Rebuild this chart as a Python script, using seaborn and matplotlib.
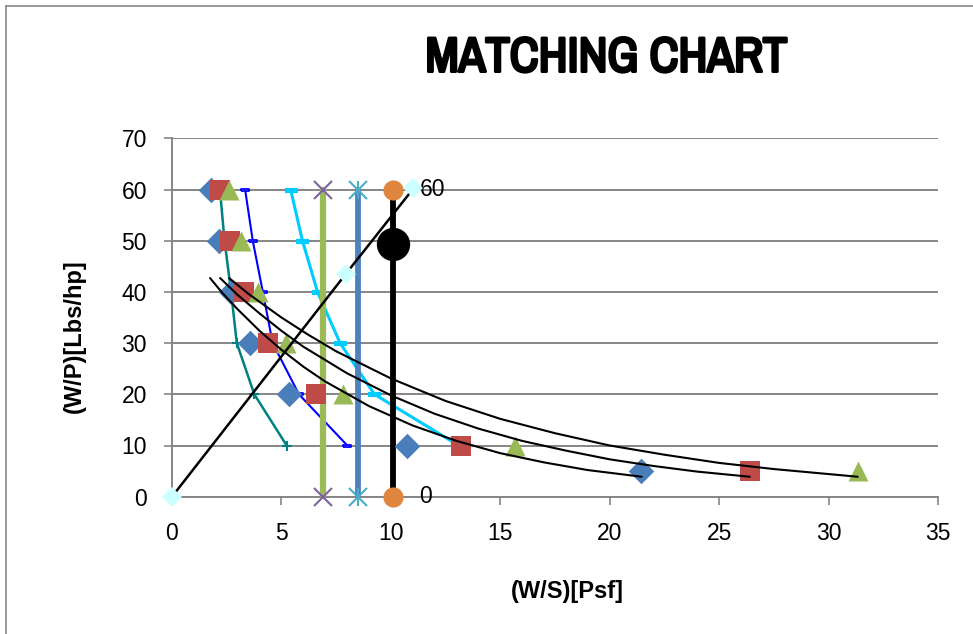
import numpy as np
import pandas as pd
import matplotlib
matplotlib.use('Agg')
import matplotlib.pyplot as plt
import matplotlib.patheffects as pe
from matplotlib import font_manager
import seaborn as sns

# ==================== 数据 ====================
wp_levels = [60, 50, 40, 30, 20, 10, 5]
ws_diamond = [1.79, 2.14, 2.68, 3.57, 5.36, 10.72, 21.44]
ws_square = [2.20, 2.64, 3.30, 4.40, 6.60, 13.20, 26.40]
ws_triangle = [2.61, 3.13, 3.92, 5.22, 7.83, 15.67, 31.33]

wp_six = [60, 50, 40, 30, 20, 10]
ws_teal = [2.19, 2.40, 2.70, 2.96, 3.76, 5.24]
ws_blue = [3.34, 3.69, 4.15, 4.60, 5.80, 8.01]
ws_cyan = [5.42, 5.96, 6.65, 7.68, 9.25, 13.10]

# vertical constraint lines (W/S fixed)
vline_wp = [0, 60]
ws_green = [6.9, 6.9]
ws_steel = [8.5, 8.5]
ws_black = [10.1, 10.1]

# design point
design_ws = [10.1]
design_wp = [49.4]

# diagonal line
diag_ws = [0, 7.94, 11.03]
diag_wp = [0, 43.5, 60.2]

# trend curves
trend1_ws = [1.74, 2.3, 3, 4, 5, 6, 7, 9, 11, 13, 15, 17, 19, 21.46]
trend1_wp = [42.7, 39.8, 36.6, 32.4, 28.7, 25.4, 22.5, 17.7, 13.9, 10.9, 8.5, 6.7, 5.2, 3.9]
trend2_ws = [2.2, 3, 4, 5, 6, 8, 10, 12, 14, 16, 18, 20, 22, 24, 26.4]
trend2_wp = [42.7, 39.4, 35.8, 32.4, 29.3, 24.1, 19.8, 16.2, 13.3, 10.9, 9.0, 7.3, 6.0, 4.9, 3.9]
trend3_ws = [2.61, 3.5, 5, 6.2, 7.5, 10, 12.5, 15, 17.5, 20, 22.5, 25, 27.5, 31.33]
trend3_wp = [42.7, 39.6, 35.0, 31.7, 28.4, 23.1, 18.7, 15.2, 12.4, 10.0, 8.2, 6.6, 5.4, 3.9]

label_ws = [10.1, 10.1]
label_wp = [60, 0]
label_txt = ['60', '0']

# ==================== 样式 ====================
sns.set_theme(style='white')
plt.rcParams['font.family'] = ['Liberation Sans', 'DejaVu Sans']
plt.rcParams['text.color'] = 'black'
plt.rcParams['axes.labelcolor'] = 'black'
grey = '#868686'

# 标题用窄体 + 描边加粗
narrow = [f.name for f in font_manager.fontManager.ttflist
          if 'Narrow' in f.name or 'Condensed' in f.name]
if narrow:
    title_family = [narrow[0]]
    title_effects = [pe.withStroke(linewidth=2.2, foreground='black')]
    title_weight = 'normal'
else:
    title_family = ['Roboto', 'DejaVu Sans']
    title_effects = None
    title_weight = 'bold'

fig = plt.figure(figsize=(9.73, 6.34), dpi=100)
ax = fig.add_axes([172 / 973, 137.3 / 634, 766 / 973, 358.4 / 634])

dash_marker = [(-1, -0.35), (1, -0.35), (1, 0.35), (-1, 0.35), (-1, -0.35)]

# 细线系列
sns.lineplot(x=ws_teal, y=wp_six, ax=ax, sort=False, estimator=None, color='#008080',
             lw=1.8, marker='+', markersize=7, markeredgewidth=1.5,
             markeredgecolor='#008080', zorder=2, legend=False)
sns.lineplot(x=ws_blue, y=wp_six, ax=ax, sort=False, estimator=None, color='#0000FF',
             lw=1.5, marker=dash_marker, markersize=6, markerfacecolor='white',
             markeredgewidth=1.3, markeredgecolor='#0000FF', zorder=2, legend=False)
sns.lineplot(x=ws_cyan, y=wp_six, ax=ax, sort=False, estimator=None, color='#00CCFF',
             lw=2.2, marker=dash_marker, markersize=9, markerfacecolor='#00CCFF',
             markeredgewidth=0.8, markeredgecolor='#00CCFF', zorder=2, legend=False)

# 竖直线
sns.lineplot(x=ws_green, y=vline_wp, ax=ax, sort=False, estimator=None, color='#9BBB59',
             lw=4.5, zorder=3, legend=False)
sns.lineplot(x=ws_green, y=vline_wp, ax=ax, sort=False, estimator=None, lw=0,
             marker='x', markersize=13, markeredgewidth=1.5, markeredgecolor='#7F63A1',
             zorder=3.1, legend=False, clip_on=False)
sns.lineplot(x=ws_steel, y=vline_wp, ax=ax, sort=False, estimator=None, color='#4F81BD',
             lw=4.2, zorder=3, legend=False)
for mk in ['x', '|']:
    sns.lineplot(x=ws_steel, y=vline_wp, ax=ax, sort=False, estimator=None, lw=0,
                 marker=mk, markersize=13, markeredgewidth=1.5, markeredgecolor='#4BACC6',
                 zorder=3.1, legend=False, clip_on=False)
sns.lineplot(x=ws_black, y=vline_wp, ax=ax, sort=False, estimator=None, color='black',
             lw=4.2, zorder=3, legend=False)
sns.lineplot(x=ws_black, y=vline_wp, ax=ax, sort=False, estimator=None, lw=0,
             marker='o', markersize=14.5, markeredgewidth=0, markerfacecolor='#E0853D',
             zorder=3.2, legend=False, clip_on=False)

# 三组标记点
sns.scatterplot(x=ws_diamond, y=wp_levels, ax=ax, marker='D', s=13 ** 2, color='#4A7EBB',
                linewidth=0, zorder=4, legend=False)
sns.scatterplot(x=ws_square, y=wp_levels, ax=ax, marker='s', s=14.4 ** 2, color='#BE4B48',
                linewidth=0, zorder=4.1, legend=False)
sns.scatterplot(x=ws_triangle, y=wp_levels, ax=ax, marker='^', s=14.4 ** 2, color='#98B954',
                linewidth=0, zorder=4.2, legend=False)

# 对角线
sns.lineplot(x=diag_ws, y=diag_wp, ax=ax, sort=False, estimator=None, color='black',
             lw=1.8, marker='D', markersize=10, markerfacecolor='#CCFFFF',
             markeredgewidth=0, markeredgecolor='#CCFFFF', zorder=5, legend=False,
             clip_on=False)

# 趋势线
for tx, ty in [(trend1_ws, trend1_wp), (trend2_ws, trend2_wp), (trend3_ws, trend3_wp)]:
    sns.lineplot(x=tx, y=ty, ax=ax, sort=False, estimator=None, color='black', lw=1.5,
                 zorder=6, legend=False)

# 设计点
sns.scatterplot(x=design_ws, y=design_wp, ax=ax, s=24 ** 2, color='black', linewidth=0,
                zorder=6, legend=False)

for lx, ly, t in zip(label_ws, label_wp, label_txt):
    ax.annotate(t, (lx, ly), xytext=(19, 0), textcoords='offset points',
                ha='left', va='center', fontsize=16.5, color='black')

# ==================== 坐标轴 ====================
ax.set_xlim(0, 35)
ax.set_ylim(0, 70)
ax.set_xticks(np.arange(0, 36, 5))
ax.set_yticks(np.arange(0, 71, 10))
ax.yaxis.grid(True, color=grey, lw=1.4)
ax.xaxis.grid(False)
ax.set_axisbelow(True)
for side in ['top', 'right']:
    ax.spines[side].set_visible(False)
for side in ['left', 'bottom']:
    ax.spines[side].set_color(grey)
    ax.spines[side].set_linewidth(1.4)
ax.tick_params(axis='both', which='major', direction='out', length=6, width=1.2,
               color=grey, labelsize=16.5, labelcolor='black', pad=12,
               bottom=True, left=True)

ax.set_xlabel('(W/S)[Psf]', fontsize=17, fontweight='bold', color='black')
ax.xaxis.set_label_coords((567 - 172) / 766, -0.232)
ax.set_ylabel('(W/P)[Lbs/hp]', fontsize=17, fontweight='bold', color='black')
ax.yaxis.set_label_coords(-0.112, 0.448)

title = fig.text(606 / 973, 1 - 58 / 634, 'MATCHING CHART', ha='center', va='center',
                 fontsize=36, fontweight=title_weight, family=title_family, color='black',
                 path_effects=title_effects)
# 按参考图的宽度调整标题字号
fig.canvas.draw()
tw = title.get_window_extent(fig.canvas.get_renderer()).width
title.set_fontsize(36 * min(1.0, 362 / tw))

# 外框
fig.add_artist(plt.Line2D([5.5 / 973, 5.5 / 973], [0, 1 - 6 / 634],
                          transform=fig.transFigure, color=grey, lw=1.2))
fig.add_artist(plt.Line2D([5.5 / 973, 1], [1 - 6 / 634, 1 - 6 / 634],
                          transform=fig.transFigure, color=grey, lw=1.2))

fig.savefig('out.png', dpi=100)
